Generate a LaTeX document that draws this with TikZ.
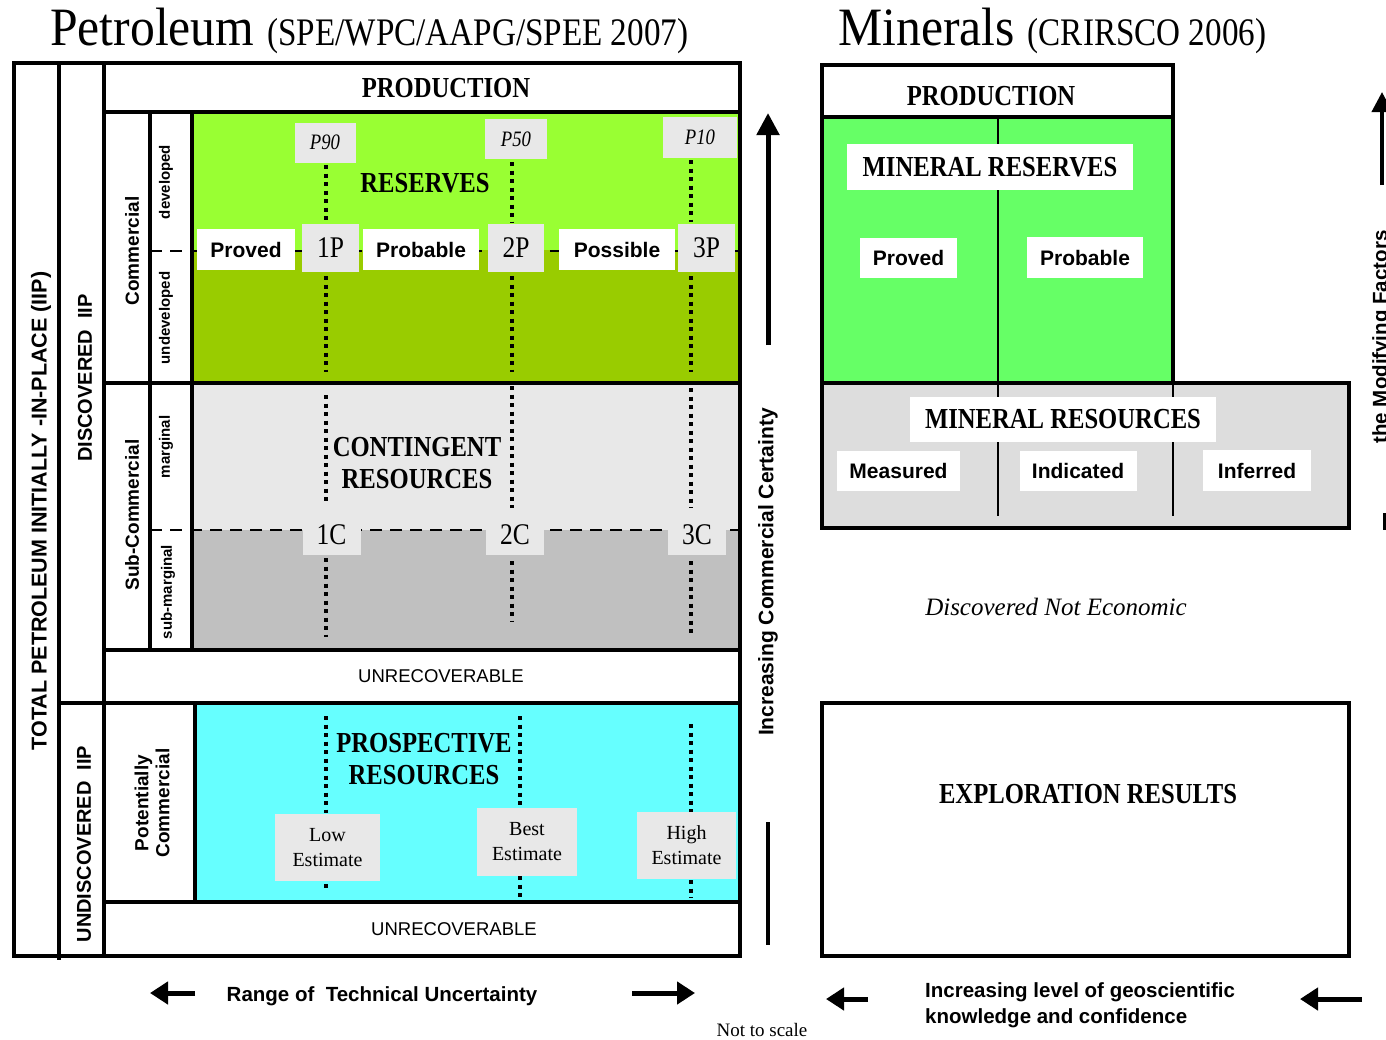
\documentclass[tikz,border=0pt]{standalone}
\usepackage{fontspec}
\setmainfont{Liberation Serif}
\setsansfont{Liberation Sans}
\newfontfamily\cserif[FakeStretch=0.85]{Liberation Serif}
\newfontfamily\tserif[FakeStretch=0.92]{Liberation Serif}
\usetikzlibrary{arrows.meta}
\definecolor{lgreen}{HTML}{99FF33}
\definecolor{dgreen}{HTML}{99CC00}
\definecolor{lgrey}{HTML}{E8E8E8}
\definecolor{dgrey}{HTML}{C0C0C0}
\definecolor{cyanf}{HTML}{66FFFF}
\definecolor{mgreen}{HTML}{66FF66}
\definecolor{mgrey}{HTML}{DDDDDD}
\newcommand\fsz[2]{\fontsize{#1}{#2}\selectfont}
\begin{document}
\begin{tikzpicture}[x=1pt,y=-1pt,
  heavy/.style={line width=4.5pt, line cap=rect},
  thinl/.style={line width=1.5pt},
  dotv/.style={line width=4pt, dash pattern=on 4pt off 4.5pt},
  dashh/.style={line width=2.5pt, dash pattern=on 12pt off 8pt},
  gbox/.style={fill=lgrey, inner sep=0pt},
  wbox/.style={fill=white, inner sep=0pt},
  bser/.style={font=\cserif\bfseries\fsz{29}{32}, align=center, inner sep=0pt},
  rser/.style={font=\cserif\fsz{30}{32}},
  pit/.style={font=\cserif\itshape\fsz{22}{24}},
  sb/.style={font=\sffamily\bfseries\fsz{21}{24}},
  est/.style={font=\fsz{20}{25}, align=center},
  rot/.style={rotate=90, inner sep=0pt},
  unrec/.style={font=\sffamily\fsz{18.5}{20}, inner sep=0pt},
  bigarrow/.style={line width=5pt, -{Triangle[width=22pt,length=18pt]}},
]
\useasboundingbox (0,0) rectangle (1386,1039);

% ---------- titles ----------
\node[anchor=base west, inner sep=0pt] (ttlP) at (50,45)
  {{\fsz{54}{60}\tserif Petroleum}\hspace{13pt}{\fsz{39}{45}\cserif (SPE/WPC/AAPG/SPEE 2007)}};
\node[anchor=base west, inner sep=0pt] (ttlM) at (838,45)
  {{\fsz{54}{60}\tserif Minerals}\hspace{13pt}{\fsz{39}{45}\cserif (CRIRSCO 2006)}};

% ---------- petroleum fills ----------
\fill[lgreen] (192,112) rectangle (740,250);
\fill[dgreen] (192,250) rectangle (740,383);
\fill[lgrey]  (192,383) rectangle (740,530);
\fill[dgrey]  (192,530) rectangle (740,650);
\fill[cyanf]  (195,703) rectangle (740,902);

% dashed separators
\draw[dashh] (150,251) -- (740,251);
\draw[dashh] (150,530) -- (740,530);

% dotted lines
\draw[dotv] (326,165) -- (326,222);
\draw[dotv] (326,276) -- (326,372);
\draw[dotv] (512,162) -- (512,222);
\draw[dotv] (512,276) -- (512,372);
\draw[dotv] (691,160) -- (691,222);
\draw[dotv] (691,276) -- (691,372);
\draw[dotv] (326,395) -- (326,505);
\draw[dotv] (326,558) -- (326,637);
\draw[dotv] (512,386) -- (512,508);
\draw[dotv] (512,561) -- (512,622);
\draw[dotv] (691,388) -- (691,508);
\draw[dotv] (691,561) -- (691,633);
\draw[dotv] (326,716) -- (326,813);
\draw[dotv] (326,884) -- (326,890);
\draw[dotv] (520,716) -- (520,808);
\draw[dotv] (520,876) -- (520,898);
\draw[dotv] (691,724) -- (691,812);
\draw[dotv] (691,880) -- (691,898);

% heavy frame lines
\draw[heavy] (14,63) -- (740,63);
\draw[heavy] (14,956) -- (740,956);
\draw[heavy] (14,63) -- (14,956);
\draw[heavy] (59,63) -- (59,958);
\draw[heavy] (104,63) -- (104,956);
\draw[heavy] (740,63) -- (740,956);
\draw[heavy] (104,112) -- (740,112);
\draw[heavy] (104,383) -- (740,383);
\draw[heavy] (104,650) -- (740,650);
\draw[heavy] (59,703) -- (740,703);
\draw[heavy] (104,902) -- (740,902);
\draw[heavy] (150,112) -- (150,650);
\draw[heavy] (192,112) -- (192,650);
\draw[heavy] (195,703) -- (195,902);

% label boxes
\node[gbox, pit, minimum width=61pt, minimum height=40pt] (p90) at (325,142.5) {P90};
\node[gbox, pit, minimum width=62pt, minimum height=40pt] (p50) at (516,139) {P50};
\node[gbox, pit, minimum width=74pt, minimum height=41pt] (p10) at (700,137.5) {P10};
\node[gbox, rser, minimum width=57pt, minimum height=48pt] (p1) at (330.5,248) {1P};
\node[gbox, rser, minimum width=56pt, minimum height=48pt] (p2) at (516,248) {2P};
\node[gbox, rser, minimum width=57pt, minimum height=48pt] (p3) at (706.5,248) {3P};
\node[wbox, sb, minimum width=98pt, minimum height=41pt] (prov) at (246,249.5) {Proved};
\node[wbox, sb, minimum width=116pt, minimum height=41pt] (prob) at (421,249.5) {Probable};
\node[wbox, sb, minimum width=116pt, minimum height=41pt] (poss) at (617,249.5) {Possible};
\node[gbox, rser, minimum width=58pt, minimum height=40pt] (c1) at (331.5,535) {1C};
\node[gbox, rser, minimum width=58pt, minimum height=40pt] (c2) at (515,535) {2C};
\node[gbox, rser, minimum width=58pt, minimum height=40pt] (c3) at (697,535) {3C};
\node[gbox, est, minimum width=105pt, minimum height=67pt] (low) at (327.5,847.5) {Low\\Estimate};
\node[gbox, est, minimum width=100pt, minimum height=68pt] (best) at (527,842) {Best\\Estimate};
\node[gbox, est, minimum width=99pt, minimum height=67pt] (high) at (686.5,845.5) {High\\Estimate};

% big labels
\node[bser] (prodL) at (446,88) {PRODUCTION};
\node[bser] (res) at (425,183) {RESERVES};
\node[bser] (cont) at (417,463) {CONTINGENT\\RESOURCES};
\node[bser] (pros) at (424,759) {PROSPECTIVE\\RESOURCES};
\node[unrec] (unr1) at (441,676) {UNRECOVERABLE};
\node[unrec] (unr2) at (454,929) {UNRECOVERABLE};

% rotated labels
\node[rot, font=\sffamily\bfseries\fsz{21.5}{24}] (tpi) at (41,511) {TOTAL PETROLEUM INITIALLY -IN-PLACE (IIP)};
\node[rot, font=\sffamily\bfseries\fsz{20}{22}] (dis) at (85,378) {DISCOVERED\ \ IIP};
\node[rot, font=\sffamily\bfseries\fsz{20}{22}] (undis) at (84,844) {UNDISCOVERED\ \ IIP};
\node[rot, font=\sffamily\bfseries\fsz{19}{21}] (com) at (132,251) {Commercial};
\node[rot, font=\sffamily\bfseries\fsz{19}{21}] (subcom) at (132,515) {Sub-Commercial};
\node[rot, font=\sffamily\bfseries\fsz{15}{17}] (dev) at (166,182) {developed};
\node[rot, font=\sffamily\bfseries\fsz{15}{17}] (undev) at (166,318) {undeveloped};
\node[rot, font=\sffamily\bfseries\fsz{15}{17}] (marg) at (166,447) {marginal};
\node[rot, font=\sffamily\bfseries\fsz{15}{17}] (submarg) at (168,592) {sub-marginal};
\node[rot, font=\sffamily\bfseries\fsz{19}{21}, align=center] (potcom) at (152,803) {Potentially\\Commercial};

% commercial certainty arrow
\coordinate (ccA) at (768,345);
\coordinate (ccB) at (768,113);
\coordinate (ccC) at (768,822);
\coordinate (ccD) at (768,945);
\draw[line width=5pt, -{Triangle[width=22pt,length=22pt]}] (ccA) -- (ccB);
\draw[line width=4pt] (ccC) -- (ccD);
\node[rot, font=\sffamily\bfseries\fsz{21}{24}] (icc) at (768,572) {Increasing Commercial Certainty};

% ---------- minerals ----------
\fill[mgreen] (822,117) rectangle (1173,383);
\fill[mgrey] (822,383) rectangle (1349,528);
\draw[thinl] (998,117) -- (998,516);
\draw[thinl] (1173,383) -- (1173,516);
\draw[heavy] (822,65) -- (1173,65);
\draw[heavy] (822,117) -- (1173,117);
\draw[heavy] (822,65) -- (822,528);
\draw[heavy] (1173,65) -- (1173,383);
\draw[heavy] (822,383) -- (1349,383);
\draw[heavy] (1349,383) -- (1349,528);
\draw[heavy] (822,528) -- (1349,528);
\draw[heavy] (822,703) rectangle (1349,956);

\node[bser] (prodR) at (991,96) {PRODUCTION};
\node[wbox, bser, minimum width=286pt, minimum height=46pt] (mres) at (990,167) {MINERAL RESERVES};
\node[wbox, sb, minimum width=97pt, minimum height=40pt] (mprov) at (908.5,258) {Proved};
\node[wbox, sb, minimum width=116pt, minimum height=41pt] (mprob) at (1085,257.5) {Probable};
\node[wbox, bser, minimum width=306pt, minimum height=45pt] (mrsc) at (1063,419.5) {MINERAL RESOURCES};
\node[wbox, sb, minimum width=123pt, minimum height=40pt] (meas) at (898.5,471) {Measured};
\node[wbox, sb, minimum width=117pt, minimum height=40pt] (ind) at (1078,471) {Indicated};
\node[wbox, sb, minimum width=108pt, minimum height=41pt] (inf) at (1257,470.5) {Inferred};
\node[font=\itshape\fsz{25}{28}] (dne) at (1056,607) {Discovered Not Economic};
\node[bser] (expl) at (1088,794) {EXPLORATION RESULTS};

% modifying factors arrow (clipped at page edge)
\coordinate (mfA) at (1382,185);
\coordinate (mfB) at (1382,92);
\draw[line width=4pt, -{Triangle[width=20pt,length=20pt]}] (mfA) -- (mfB);
\node[rotate=90, anchor=base, inner sep=0pt, font=\sffamily\bfseries\fsz{20.5}{22}] (mf) at (1387,337) {the Modifying Factors};
\coordinate (brA) at (1384,513);
\coordinate (brB) at (1384,530);
\draw[line width=3pt] (brA) -- (brB);

% ---------- bottom ----------
\coordinate (a1s) at (195,993); \coordinate (a1e) at (150,993);
\coordinate (a2s) at (632,993); \coordinate (a2e) at (695,993);
\coordinate (a3s) at (868,999); \coordinate (a3e) at (826,999);
\coordinate (a4s) at (1362,999); \coordinate (a4e) at (1300,999);
\draw[bigarrow] (a1s) -- (a1e);
\draw[bigarrow] (a2s) -- (a2e);
\draw[bigarrow] (a3s) -- (a3e);
\draw[bigarrow] (a4s) -- (a4e);
\node[font=\sffamily\bfseries\fsz{20.5}{24}] (rtu) at (382,996) {Range of\ \ Technical Uncertainty};
\node[anchor=north west, align=left, inner sep=0pt, font=\sffamily\bfseries\fsz{20.5}{26}] (ilg) at (925,982)
  {Increasing level of geoscientific\\knowledge and confidence};
\node[font=\fsz{19}{21}] (nts) at (762,1030) {Not to scale};
\end{tikzpicture}
\end{document}
